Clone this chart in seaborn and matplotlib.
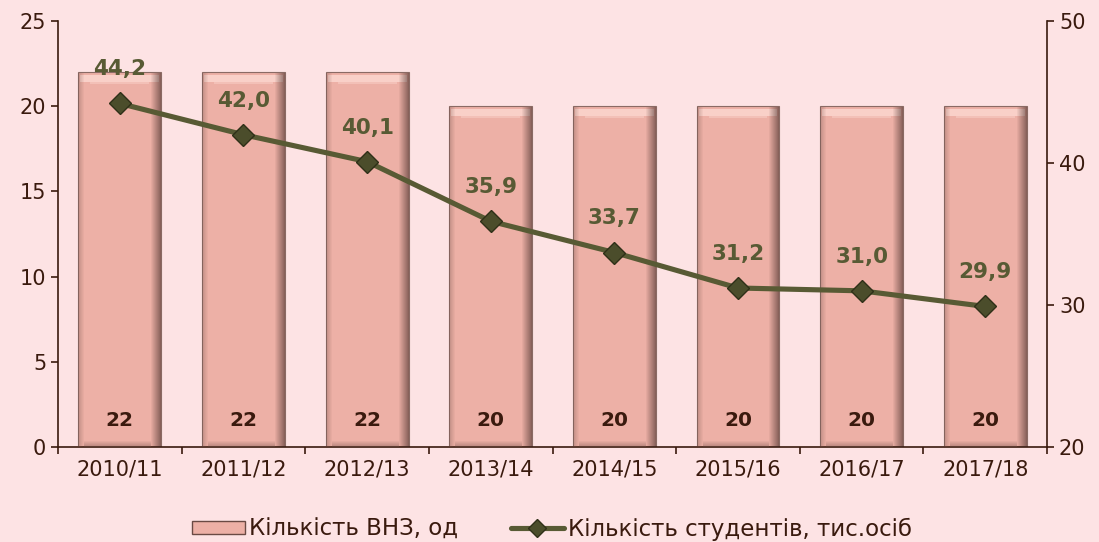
import numpy as np
import pandas as pd
import matplotlib
matplotlib.use('Agg')
import matplotlib.pyplot as plt
import seaborn as sns
from matplotlib.lines import Line2D
from matplotlib.patches import Patch
from matplotlib.ticker import FixedLocator, NullFormatter

# дані
years = ['2010/11', '2011/12', '2012/13', '2013/14', '2014/15', '2015/16', '2016/17', '2017/18']
universities = [22, 22, 22, 20, 20, 20, 20, 20]
students = [44.2, 42.0, 40.1, 35.9, 33.7, 31.2, 31.0, 29.9]
bar_label = 'Кількість ВНЗ, од'
line_label = 'Кількість студентів, тис.осіб'

bg = '#FDE3E4'
bar_color = '#EDB0A6'
line_color = '#585A34'
text_color = '#3A1A0E'

sns.set_theme(style='white')
plt.rcParams['font.family'] = ['DejaVu Sans']

df = pd.DataFrame({'year': years, 'vnz': universities, 'stud': students})
df['pos'] = np.arange(len(df))

fig = plt.figure(figsize=(10.99, 5.42), dpi=100, facecolor=bg)
ax = fig.add_axes([0.0528, 0.1753, 0.9, 0.7857])
ax.set_facecolor(bg)

sns.barplot(data=df, x='year', y='vnz', color=bar_color, width=0.67,
            edgecolor='#8a6a64', linewidth=0.8, saturation=1, ax=ax, zorder=2)

# імітація фаски (світлий верх, темні бічні та нижня грані)
px_x = 1 / 123.6
px_y = 25 / 426
for p in ax.patches:
    x0, w, h = p.get_x(), p.get_width(), p.get_height()
    ax.fill_between([x0 + 2 * px_x, x0 + w - 2 * px_x], h - 10 * px_y, h - 3 * px_y,
                    color='#F9D0C8', zorder=3, lw=0)
    ax.fill_between([x0 + 12 * px_x, x0 + w - 12 * px_x], h - 12 * px_y, h - 10 * px_y,
                    color='#F3C0B7', zorder=3, lw=0)
    for k in range(10):
        ax.fill_between([x0 + w - (k + 1) * px_x, x0 + w - k * px_x], 0, h - 1 * px_y,
                        color='#3a2420', alpha=0.55 * (1 - k / 10), zorder=3, lw=0)
    for k in range(6):
        ax.fill_between([x0 + k * px_x, x0 + (k + 1) * px_x], 0, h - 1 * px_y,
                        color='#7a5650', alpha=0.35 * (1 - k / 6), zorder=3, lw=0)
    for k in range(6):
        ax.fill_between([x0 + 6 * px_x, x0 + w - 10 * px_x], k * px_y, (k + 1) * px_y,
                        color='#6a4a44', alpha=0.4 * (1 - k / 6), zorder=3, lw=0)

for i, v in enumerate(universities):
    ax.text(i, 1.55, str(v), ha='center', va='center', fontsize=14.5, fontweight='bold',
            color=text_color, zorder=5)

ax.set_ylim(0, 25)
ax.set_xlim(-0.5, len(years) - 0.5)
ax.set_yticks([0, 5, 10, 15, 20, 25])
ax.set_xlabel('')
ax.set_ylabel('')
ax.tick_params(axis='y', colors=text_color, labelsize=15, length=5, width=1.2, direction='out', left=True)
ax.tick_params(axis='x', which='major', length=0, labelsize=15, colors=text_color, pad=9)
ax.xaxis.set_minor_locator(FixedLocator(np.arange(-0.5, len(years), 1)))
ax.xaxis.set_minor_formatter(NullFormatter())
ax.tick_params(axis='x', which='minor', bottom=True, length=5, width=1.2, color=text_color)

ax2 = ax.twinx()
sns.lineplot(data=df, x='pos', y='stud', color=line_color, linewidth=3.7, marker='D',
             markersize=11.5, markerfacecolor='#4B4D2B', markeredgecolor='#2f3018',
             markeredgewidth=1, ax=ax2, zorder=6)
for i, v in enumerate(students):
    ax2.annotate(f'{v:.1f}'.replace('.', ','), (i, v), xytext=(0, 24.5), textcoords='offset points',
                 ha='center', va='center', fontsize=15.5, fontweight='bold', color=line_color)
ax2.set_ylim(20, 50)
ax2.set_yticks([20, 30, 40, 50])
ax2.set_ylabel('')
ax2.tick_params(axis='y', colors=text_color, labelsize=15, length=5, width=1.2, direction='out', right=True)

for a in (ax, ax2):
    for s in a.spines.values():
        s.set_visible(False)
ax.spines['left'].set_visible(True)
ax.spines['bottom'].set_visible(True)
ax2.spines['right'].set_visible(True)
for s in (ax.spines['left'], ax.spines['bottom'], ax2.spines['right']):
    s.set_color(text_color)
    s.set_linewidth(1.2)

handles = [Patch(facecolor=bar_color, edgecolor='#6a4a44', label=bar_label),
           Line2D([0], [0], color=line_color, lw=3.7, marker='D', markersize=9,
                  markerfacecolor='#4B4D2B', markeredgecolor='#2f3018', label=line_label)]
fig.legend(handles=handles, loc='center left', ncol=2, frameon=False,
           prop={'family': 'DejaVu Sans', 'size': 16.5},
           bbox_to_anchor=(0.1747, 0.024), borderaxespad=0, borderpad=0,
           handlelength=2.3, handleheight=0.55,
           handletextpad=0.2, columnspacing=2.3, labelcolor=text_color)

fig.savefig('out.png', dpi=100, facecolor=bg)
